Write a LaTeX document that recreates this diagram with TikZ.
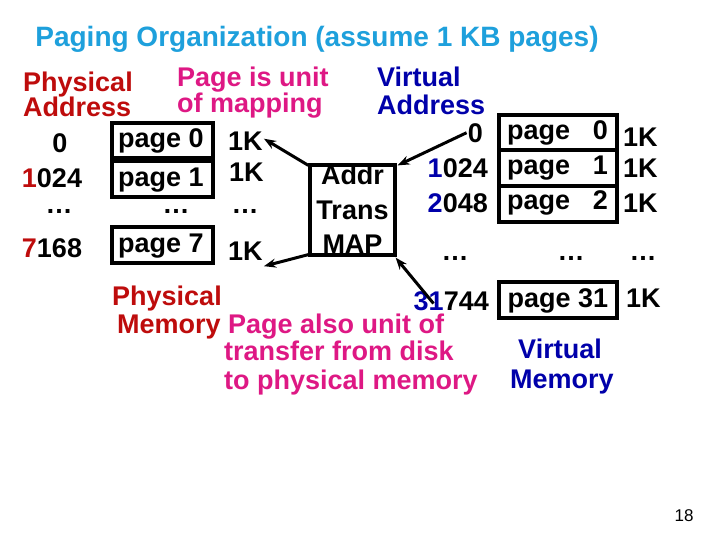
\documentclass[tikz,border=0pt]{standalone}
\usepackage{fontspec}
\setmainfont{Liberation Sans}
\usetikzlibrary{arrows.meta}
\definecolor{titleblue}{RGB}{30,160,220}
\definecolor{dred}{RGB}{190,12,12}
\definecolor{mag}{RGB}{222,24,132}
\definecolor{dblue}{RGB}{0,0,170}
\begin{document}
\begin{tikzpicture}[x=1pt,y=-1pt,
  lbl/.style={inner sep=0pt,font=\bfseries\fontsize{27}{27}\selectfont},
  bw/.style={lbl,anchor=base west},
  be/.style={lbl,anchor=base east},
  bc/.style={lbl,anchor=base},
  pbox/.style={draw,line width=3.2pt,inner sep=0pt},
  conn/.style={line width=3pt,-{Stealth[length=12pt,width=9pt]}}]
\useasboundingbox[fill=white] (0,0) rectangle (720,540);

% title
\node[lbl,anchor=base,text=titleblue,font=\bfseries\fontsize{28}{28}\selectfont] (title) at (317,47) {Paging Organization (assume 1 KB pages)};

% headings
\node[bw,text=dred] (pa1) at (23,92) {Physical};
\node[bw,text=dred] (pa2) at (23,117) {Address};
\node[bw,text=mag] (pu1) at (177,87) {Page is unit};
\node[bw,text=mag] (pu2) at (177,113) {of mapping};
\node[bw,text=dblue] (va1) at (377,87) {Virtual};
\node[bw,text=dblue] (va2) at (377,115) {Address};

% physical memory column
\node[bc] (pz0) at (60,153) {0};
\node[bc] (pz1) at (52,188) {{\color{dred}1}024};
\node[bc] (pz2) at (59,214) {\ldots};
\node[bc] (pz7) at (52,258) {{\color{dred}7}168};

\node[pbox,minimum width=101pt,minimum height=35pt] (pg0) at (162.5,140.5) {};
\node[pbox,minimum width=101pt,minimum height=36pt] (pg1) at (162.5,179) {};
\node[pbox,minimum width=101pt,minimum height=36pt] (pg7) at (162.5,245) {};
\node[bc] (pt0) at (161,148) {page 0};
\node[bc] (pt1) at (161,187) {page 1};
\node[bc] (pt2) at (176,214) {\ldots};
\node[bc] (pt7) at (161,252) {page 7};

\node[bw] (k0l) at (228,151) {1K};
\node[bw] (k1l) at (229,182) {1K};
\node[bc] (k2l) at (245,214) {\ldots};
\node[bw] (k7l) at (228,260) {1K};

% address translation map
\node[pbox,minimum width=85pt,minimum height=90pt] (map) at (352.5,210) {};
\node[bc] (m1) at (352.5,185) {Addr};
\node[bc] (m2) at (352.5,220) {Trans};
\node[bc] (m3) at (352.5,253) {MAP};

% virtual memory column
\node[be] (vz0) at (483,143) {0};
\node[be] (vz1) at (488,178) {{\color{dblue}1}024};
\node[be] (vz2) at (488,212) {{\color{dblue}2}048};
\node[bc] (vz3) at (455,260) {\ldots};
\node[be] (vz31) at (489,310) {{\color{dblue}31}744};

\node[pbox,minimum width=118pt,minimum height=35pt] (vg0) at (558,132.5) {};
\node[pbox,minimum width=118pt,minimum height=36pt] (vg1) at (558,168) {};
\node[pbox,minimum width=118pt,minimum height=36pt] (vg2) at (558,204) {};
\node[pbox,minimum width=118pt,minimum height=36pt] (vg31) at (558,300) {};
\node[bw] (vp0) at (507,140) {page}; \node[be] (vn0) at (608,140) {0};
\node[bw] (vp1) at (507,175) {page}; \node[be] (vn1) at (608,175) {1};
\node[bw] (vp2) at (507,210) {page}; \node[be] (vn2) at (608,210) {2};
\node[bc] (vp3) at (571,260) {\ldots};
\node[bc] (vp31) at (558,307) {page 31};

\node[bw] (k0r) at (623,147) {1K};
\node[bw] (k1r) at (623,178) {1K};
\node[bw] (k2r) at (623,212) {1K};
\node[bc] (k3r) at (643,260) {\ldots};
\node[bw] (k31r) at (626,307) {1K};

% bottom labels
\node[bw,text=dred] (pm1) at (112,305) {Physical};
\node[bw,text=dred] (pm2) at (117,333) {Memory};
\node[bw,text=mag] (tr1) at (228,333) {Page also unit of};
\node[bw,text=mag] (tr2) at (224,360) {transfer from disk};
\node[bw,text=mag] (tr3) at (224,389) {to physical memory};
\node[bc,text=dblue] (vm1) at (560,358) {Virtual};
\node[bc,text=dblue] (vm2) at (562,388) {Memory};

% connectors
\draw[conn] ([shift={(0,2)}]map.north west) -- ([shift={(1,-3)}]k0l.east);
\draw[conn] ([shift={(0,-2)}]map.south west) -- ([shift={(1,6)}]k7l.south east);
\draw[conn] ([shift={(-1,-1)}]vz0.west) -- ([shift={(1,2)}]map.north east);
\draw[conn] ([shift={(20,-7)}]vz31.south west) -- ([shift={(-1,1)}]map.south east);

% page number
\node[inner sep=0pt,anchor=base,font=\fontsize{17}{17}\selectfont] (pnum) at (684,521) {18};
\end{tikzpicture}
\end{document}
